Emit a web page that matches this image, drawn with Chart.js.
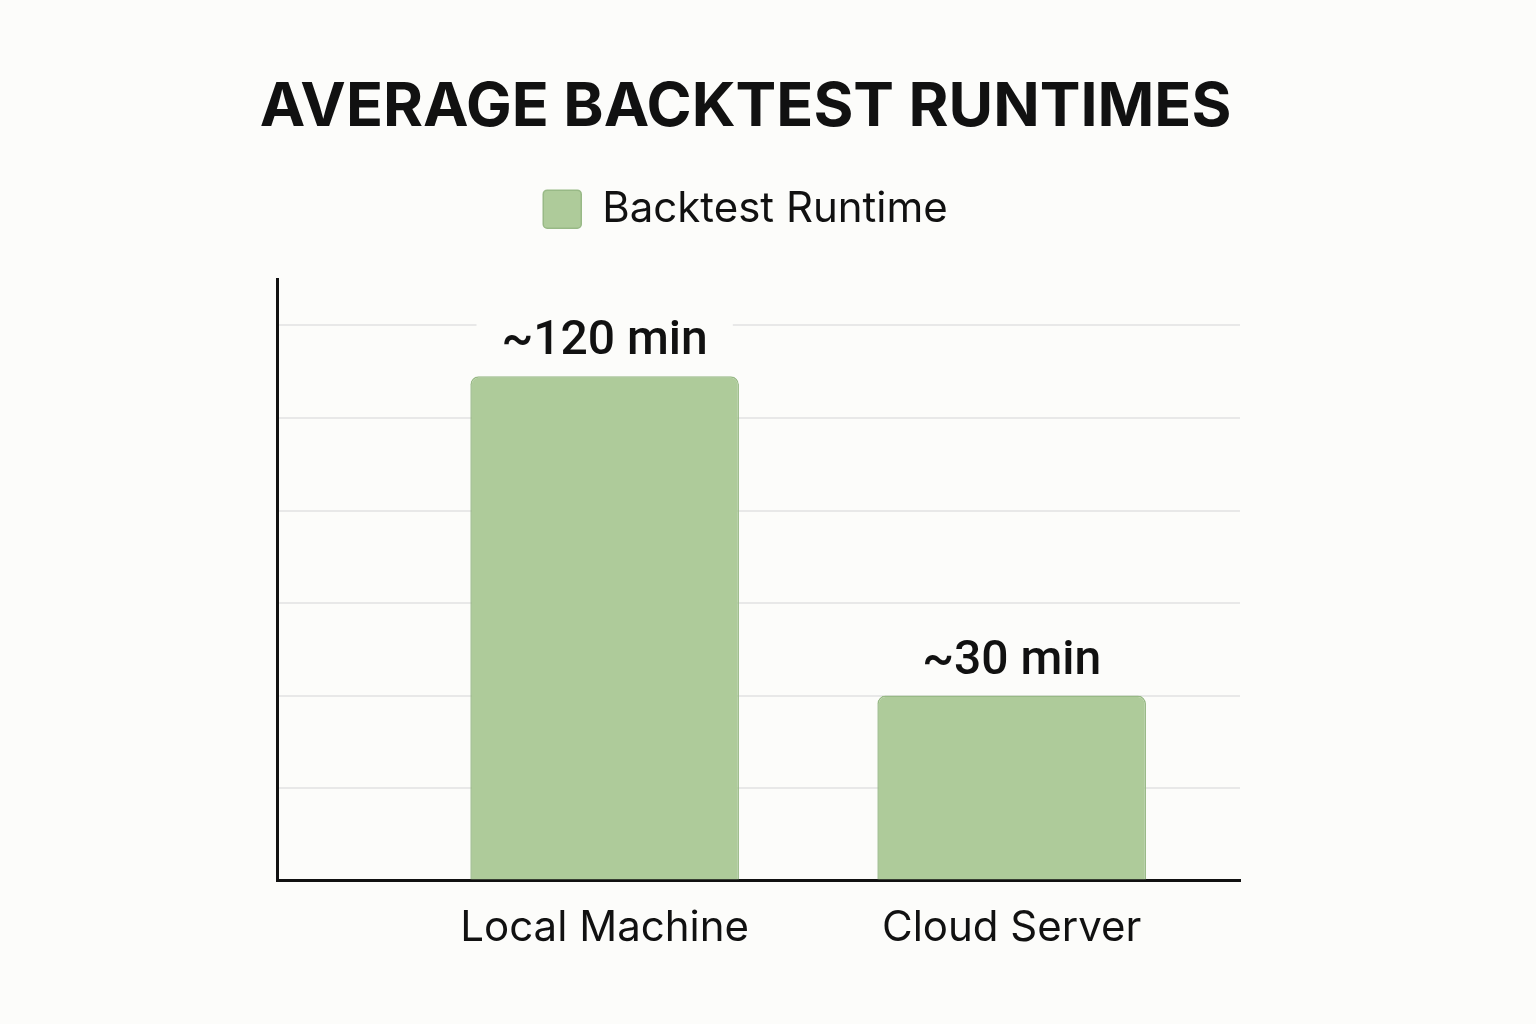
<!DOCTYPE html>
<html>
<head>
<meta charset="utf-8">
<title>Average Backtest Runtimes</title>
<script src="https://cdn.jsdelivr.net/npm/chart.js@4.4.1/dist/chart.umd.min.js"></script>
<style>
  html, body { margin: 0; padding: 0; background: #fcfcfa; }
  #wrap { width: 1536px; height: 1024px; }
</style>
</head>
<body>
<div id="wrap"><canvas id="runtimeChart" width="1536" height="1024"></canvas></div>
<script>
// values (bar heights against the unlabeled grid)
const categories = ["Local Machine", "Cloud Server"];
const runtimes = [109, 40];
const valueLabels = ["~120 min", "~30 min"];
const seriesName = "Backtest Runtime";
const chartTitle = "AVERAGE BACKTEST RUNTIMES";
const gridStep = 20;

const pageColor = "#fcfcfa";
const barColor = "#aecb9a";
const barEdge = "#98b986";
const ink = "#111111";

// text above each bar, with a page-coloured patch so gridlines break behind it
const valueLabelPlugin = {
  id: "valueLabels",
  afterDatasetsDraw(chart) {
    const ctx = chart.ctx;
    const meta = chart.getDatasetMeta(0);
    ctx.save();
    ctx.font = "500 48px Roboto";
    ctx.textAlign = "center";
    ctx.textBaseline = "alphabetic";
    meta.data.forEach((bar, i) => {
      const text = valueLabels[i];
      const w = ctx.measureText(text).width;
      const baseY = bar.y - 22;
      ctx.fillStyle = pageColor;
      ctx.fillRect(bar.x - w / 2 - 25, baseY - 42, w + 50, 52);
      ctx.fillStyle = ink;
      ctx.fillText(text, bar.x, baseY);
    });
    ctx.restore();
  }
};

// extra room between the legend and the plot
const legendGap = {
  id: "legendGap",
  beforeInit(chart) {
    const fit = chart.legend.fit;
    chart.legend.fit = function () {
      fit.bind(chart.legend)();
      this.height += 39;
    };
  }
};

const ctx = document.getElementById("runtimeChart");

new Chart(ctx, {
  type: "bar",
  data: {
    datasets: [
      {
        label: seriesName,
        data: runtimes.map((v, i) => ({ x: i, y: v })),
        backgroundColor: barColor,
        borderColor: barEdge,
        borderWidth: 1.5,
        borderRadius: { topLeft: 8, topRight: 8 },
        borderSkipped: "bottom",
        categoryPercentage: 1,
        barPercentage: 0.66,
      },
    ],
  },
  options: {
    responsive: false,
    animation: false,
    devicePixelRatio: 1,
    layout: { padding: { left: 251, right: 296, top: 0, bottom: 47 } },
    plugins: {
      title: {
        display: true,
        text: chartTitle,
        color: ink,
        font: { family: "Inter", size: 61, weight: "bold" },
        padding: { top: 71, bottom: 24 },
      },
      legend: {
        position: "top",
        labels: {
          boxWidth: 38,
          boxHeight: 38,
          useBorderRadius: true,
          borderRadius: 4,
          color: ink,
          font: { family: "Inter", size: 42 },
          padding: 20,
        },
      },
      tooltip: { enabled: false },
    },
    scales: {
      x: {
        type: "linear",
        offset: false,
        min: -0.805,
        max: 1.561,
        afterBuildTicks: (s) => {
          s.ticks = categories.map((c, i) => ({ value: i }));
        },
        ticks: {
          callback: (v) => categories[v],
          color: ink,
          font: { family: "Inter", size: 42 },
          padding: 23,
          maxRotation: 0,
          autoSkip: false,
        },
        grid: { display: false, drawTicks: false, offset: false },
        border: { color: ink, width: 3 },
      },
      y: {
        min: 0,
        max: 130,
        afterFit: (s) => {
          s.width = 26;
        },
        afterBuildTicks: (s) => {
          s.ticks = s.ticks.filter((t) => t.value % gridStep === 0);
        },
        ticks: { display: false, stepSize: gridStep },
        grid: {
          color: (c) => (c.tick && c.tick.value === 0 ? "rgba(0,0,0,0)" : "#e8e8e8"),
          lineWidth: 2,
          drawTicks: false,
        },
        border: { color: ink, width: 3 },
      },
    },
  },
  plugins: [valueLabelPlugin, legendGap],
});
</script>
</body>
</html>
